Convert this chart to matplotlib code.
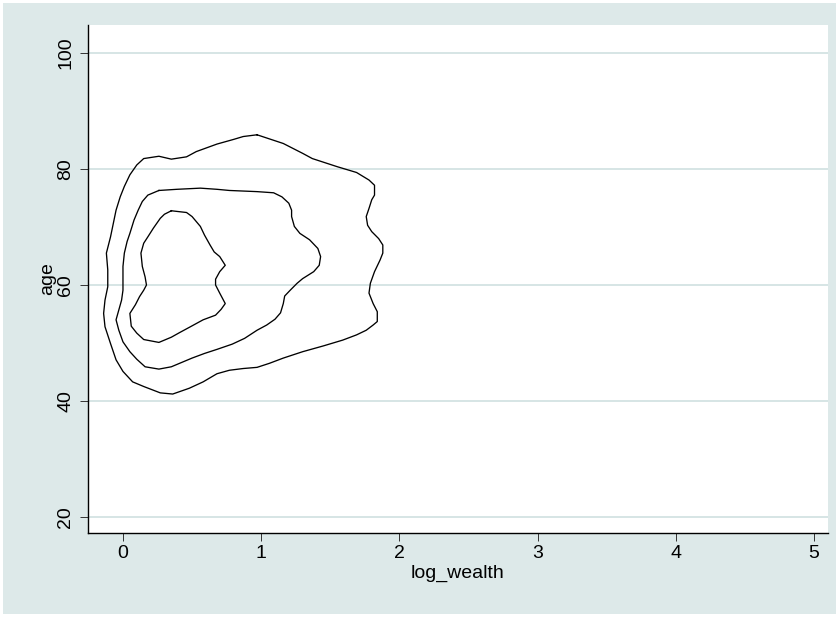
import matplotlib
matplotlib.use("Agg")
import matplotlib.pyplot as plt
from matplotlib.patches import Rectangle

# contour lines (log_wealth, age), outer to inner
outer_x = [0.97, 1.16, 1.30, 1.37, 1.55, 1.69, 1.78, 1.82, 1.82, 1.80, 1.78, 1.76, 1.77, 1.80,
           1.85, 1.88, 1.88, 1.86, 1.82, 1.79, 1.78, 1.81, 1.84, 1.84, 1.81, 1.76, 1.69, 1.59,
           1.45, 1.30, 1.16, 1.06, 0.97, 0.87, 0.77, 0.68, 0.58, 0.48, 0.36, 0.27, 0.15, 0.07,
           0.00, -0.05, -0.09, -0.13, -0.14, -0.13, -0.11, -0.11, -0.12, -0.09, -0.07, -0.05,
           -0.02, 0.01, 0.05, 0.10, 0.15, 0.26, 0.35, 0.46, 0.53, 0.68, 0.80, 0.87, 0.97]
outer_y = [85.9, 84.4, 82.7, 81.8, 80.4, 79.4, 78.1, 77.2, 75.5, 74.7, 73.2, 71.8, 70.3, 69.2,
           68.0, 66.9, 65.5, 64.3, 62.3, 60.3, 58.6, 56.8, 55.4, 53.7, 53.1, 52.2, 51.4, 50.5,
           49.5, 48.5, 47.4, 46.5, 45.8, 45.6, 45.3, 44.7, 43.3, 42.2, 41.2, 41.4, 42.5, 43.3,
           45.1, 47.1, 49.9, 52.8, 55.1, 57.4, 59.7, 62.6, 65.5, 68.3, 70.6, 72.9,
           75.2, 77.0, 79.0, 80.7, 81.8, 82.2, 81.7, 82.1, 83.0, 84.3, 85.1, 85.6, 85.9]

mid_x = [0.26, 0.39, 0.56, 0.68, 0.77, 0.97, 1.09, 1.15, 1.20, 1.22, 1.22, 1.24, 1.28, 1.35,
         1.41, 1.43, 1.42, 1.38, 1.30, 1.26, 1.21, 1.17, 1.16, 1.14, 1.10, 1.04, 0.97, 0.88,
         0.79, 0.68, 0.59, 0.50, 0.35, 0.26, 0.16, 0.10, 0.05, 0.00, -0.03, -0.05, -0.03,
         -0.01, 0.00, 0.00, 0.00, 0.01, 0.03, 0.05, 0.08, 0.11, 0.14, 0.18, 0.26]
mid_y = [76.3, 76.5, 76.7, 76.5, 76.3, 76.1, 75.9, 75.2, 74.1, 72.9, 71.8, 70.1, 68.9, 67.8,
         66.3, 64.9, 63.4, 62.3, 61.1, 60.3, 59.1, 58.1, 56.8, 55.2, 54.1, 53.1, 52.2, 50.8,
         49.8, 48.9, 48.2, 47.4, 45.9, 45.5, 45.9, 47.2, 48.5, 50.2, 52.2, 54.0, 55.7,
         57.4, 59.1, 60.9, 63.2, 65.5, 67.5, 68.9, 71.2, 72.9, 74.4, 75.5, 76.3]

inner_x = [0.35, 0.46, 0.50, 0.56, 0.59, 0.63, 0.66, 0.70, 0.74, 0.70, 0.67, 0.67, 0.70, 0.74,
           0.71, 0.67, 0.58, 0.48, 0.41, 0.35, 0.26, 0.15, 0.10, 0.06, 0.05, 0.09, 0.12, 0.15,
           0.17, 0.16, 0.14, 0.13, 0.15, 0.18, 0.22, 0.27, 0.30, 0.35]
inner_y = [72.8, 72.5, 71.8, 70.1, 68.6, 66.9, 65.7, 64.9, 63.4, 62.3, 61.0, 60.0, 58.6, 56.8,
           55.8, 54.8, 54.0, 52.7, 51.8, 51.0, 50.1, 50.6, 51.7, 52.9, 55.1, 56.6, 58.0, 59.1,
           60.0, 61.4, 63.2, 65.5, 67.2, 68.3, 69.8, 71.5, 72.2, 72.8]

x_ticks = [0, 1, 2, 3, 4, 5]
y_ticks = [20, 40, 60, 80, 100]

bg = "#dde9e9"
grid_col = "#d6e5e5"

plt.rcParams["font.family"] = ["Liberation Sans", "DejaVu Sans"]

fig = plt.figure(figsize=(8.39, 6.17), dpi=100, facecolor="white")
fig.patches.append(Rectangle((3 / 839, 3 / 617), 833 / 839, 611 / 617,
                             transform=fig.transFigure, facecolor=bg,
                             edgecolor="none", zorder=-1))
ax = fig.add_axes([88 / 839, 1 - 533 / 617, 740 / 839, 508 / 617])
ax.set_facecolor("white")

for xs, ys in [(outer_x, outer_y), (mid_x, mid_y), (inner_x, inner_y)]:
    ax.plot(xs, ys, color="black", lw=0.95)

ax.set_xlim(-0.253, 5.101)
ax.set_ylim(17.24, 104.83)
ax.set_xticks(x_ticks)
ax.set_yticks(y_ticks)
ax.set_yticklabels([str(t) for t in y_ticks], rotation=90, va="center")
ax.grid(axis="y", color=grid_col, lw=1.4)
ax.set_axisbelow(True)

for s in ["top", "right"]:
    ax.spines[s].set_visible(False)
for s in ["left", "bottom"]:
    ax.spines[s].set_linewidth(1.0)
ax.tick_params(axis="both", length=6, width=0.7, labelsize=14, color="#333333")
ax.tick_params(axis="x", pad=3)
ax.tick_params(axis="y", pad=4)

ax.set_xlabel("log_wealth", fontsize=14, labelpad=2)
ax.set_ylabel("age", fontsize=14, labelpad=1)

fig.savefig("out.png", dpi=100, facecolor="white")
